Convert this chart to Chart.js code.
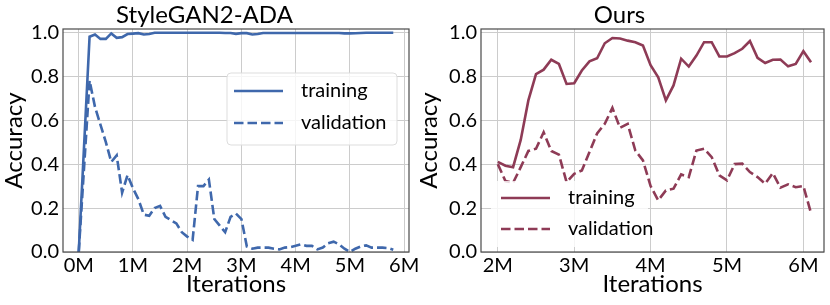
<!DOCTYPE html>
<html>
<head>
<meta charset="utf-8">
<script src="https://cdn.jsdelivr.net/npm/chart.js@4.4.1/dist/chart.umd.min.js"></script>
<style>
    body { margin: 0; background: #fff; }
    #wrap { position: relative; width: 830px; height: 305px; overflow: hidden; }
    canvas { position: absolute; top: 0; }
    #leftChart { left: 0; }
    #rightChart { left: 415px; }
</style>
</head>
<body>
<div id="wrap">
    <canvas id="leftChart" width="430" height="305"></canvas>
    <canvas id="rightChart" width="415" height="305"></canvas>
</div>
<script>
// --- data (iterations in millions) ---
const seriesNames = ['training', 'validation'];
const yTicks = [0, 0.2, 0.4, 0.6, 0.8, 1.0];

// StyleGAN2-ADA
const leftIters = [0, 0.2, 0.3, 0.4, 0.5, 0.6, 0.7, 0.8, 0.9, 1.0,
    1.1, 1.2, 1.3, 1.4, 1.5, 1.6, 1.7, 1.8, 1.9, 2.0,
    2.1, 2.2, 2.3, 2.4, 2.5, 2.6, 2.7, 2.8, 2.9, 3.0,
    3.1, 3.2, 3.3, 3.4, 3.5, 3.6, 3.7, 3.8, 3.9, 4.0,
    4.1, 4.2, 4.3, 4.4, 4.5, 4.6, 4.7, 4.8, 4.9, 5.0,
    5.1, 5.2, 5.3, 5.4, 5.5, 5.6, 5.7, 5.8];
const leftTrain = [0, 0.98, 0.99, 0.97, 0.97, 0.995, 0.975, 0.978, 0.992, 0.994,
    0.996, 0.99, 0.992, 0.998, 0.998, 0.998, 0.998, 0.998, 0.998, 0.998,
    0.998, 0.998, 0.998, 0.998, 0.998, 0.998, 0.997, 0.997, 0.993, 0.996,
    0.996, 0.99, 0.992, 0.997, 0.997, 0.997, 0.997, 0.997, 0.997, 0.997,
    0.997, 0.997, 0.997, 0.997, 0.997, 0.997, 0.997, 0.997, 0.995, 0.995,
    0.996, 0.997, 0.998, 0.998, 0.998, 0.998, 0.998, 0.998];
const leftVal = [0, 0.78, 0.66, 0.58, 0.50, 0.41, 0.44, 0.27, 0.35, 0.29,
    0.24, 0.17, 0.165, 0.20, 0.21, 0.16, 0.145, 0.13, 0.09, 0.07,
    0.055, 0.30, 0.30, 0.33, 0.15, 0.12, 0.09, 0.16, 0.175, 0.15,
    0.025, 0.015, 0.02, 0.02, 0.02, 0.015, 0.012, 0.02, 0.022, 0.028,
    0.035, 0.028, 0.028, 0.012, 0.02, 0.04, 0.047, 0.035, 0.015, 0.0,
    0.015, 0.025, 0.03, 0.02, 0.02, 0.02, 0.018, 0.01];
const leftXTicks = [0, 1, 2, 3, 4, 5, 6];

// Ours
const rightIters = [2.0, 2.1, 2.2, 2.3, 2.4, 2.5, 2.6, 2.7, 2.8, 2.9,
    3.0, 3.1, 3.2, 3.3, 3.4, 3.5, 3.6, 3.7, 3.8, 3.9,
    4.0, 4.1, 4.2, 4.3, 4.4, 4.5, 4.6, 4.7, 4.8, 4.9,
    5.0, 5.1, 5.2, 5.3, 5.4, 5.5, 5.6, 5.7, 5.8, 5.9,
    6.0, 6.1];
const rightTrain = [0.41, 0.393, 0.386, 0.51, 0.69, 0.81, 0.83, 0.875, 0.856, 0.765,
    0.768, 0.826, 0.868, 0.882, 0.95, 0.974, 0.972, 0.962, 0.955, 0.94,
    0.85, 0.795, 0.69, 0.758, 0.88, 0.844, 0.894, 0.955, 0.955, 0.89,
    0.89, 0.905, 0.925, 0.96, 0.884, 0.86, 0.875, 0.876, 0.845, 0.856,
    0.914, 0.864];
const rightVal = [0.40, 0.323, 0.315, 0.386, 0.46, 0.47, 0.545, 0.46, 0.443, 0.318,
    0.356, 0.371, 0.455, 0.54, 0.583, 0.656, 0.565, 0.583, 0.462, 0.417,
    0.30, 0.235, 0.28, 0.288, 0.353, 0.341, 0.462, 0.47, 0.432, 0.349,
    0.326, 0.40, 0.402, 0.364, 0.341, 0.311, 0.359, 0.293, 0.308, 0.295,
    0.30, 0.177];
const rightXTicks = [2, 3, 4, 5, 6];

const FONT = 'Lato, "DejaVu Sans", sans-serif';

// legend drawn inside the plot, matplotlib style
const boxLegend = {
    id: 'boxLegend',
    afterDatasetsDraw(chart, args, opts) {
        const ctx = chart.ctx;
        ctx.save();
        ctx.fillStyle = 'rgba(255,255,255,0.8)';
        ctx.beginPath();
        ctx.roundRect(opts.box[0], opts.box[1], opts.box[2], opts.box[3], 4);
        ctx.fill();
        if (opts.edge) {
            ctx.strokeStyle = opts.edge;
            ctx.lineWidth = 1;
            ctx.stroke();
        }
        chart.data.datasets.forEach((ds, i) => {
            const y = opts.y + i * opts.rowGap;
            ctx.strokeStyle = ds.borderColor;
            ctx.lineWidth = ds.borderWidth;
            ctx.setLineDash(ds.borderDash || []);
            ctx.beginPath();
            ctx.moveTo(opts.x, y);
            ctx.lineTo(opts.x + 49, y);
            ctx.stroke();
            ctx.setLineDash([]);
            ctx.fillStyle = '#000';
            ctx.font = '20px ' + FONT;
            ctx.textBaseline = 'middle';
            ctx.fillText(ds.label, opts.x + 67, y);
        });
        ctx.restore();
    }
};

// full box around the plot area
const frame = {
    id: 'frame',
    afterDatasetsDraw(chart) {
        const a = chart.chartArea;
        const ctx = chart.ctx;
        ctx.save();
        ctx.strokeStyle = '#4a4a4a';
        ctx.lineWidth = 1.2;
        ctx.strokeRect(a.left, a.top, a.right - a.left, a.bottom - a.top);
        ctx.restore();
    }
};

function makeChart(id, title, iters, train, val, xTicks, xMin, xMax, color, yAxisWidth, padRight, legendOpts) {
    const ctx = document.getElementById(id).getContext('2d');
    return new Chart(ctx, {
        type: 'line',
        data: {
            datasets: [{
                label: seriesNames[0],
                data: iters.map((x, i) => ({ x: x, y: train[i] })),
                borderColor: color,
                borderWidth: 2.6,
                pointRadius: 0,
                tension: 0,
                fill: false
            }, {
                label: seriesNames[1],
                data: iters.map((x, i) => ({ x: x, y: val[i] })),
                borderColor: color,
                borderWidth: 2.6,
                borderDash: [9.5, 4],
                pointRadius: 0,
                tension: 0,
                fill: false
            }]
        },
        options: {
            responsive: false,
            animation: false,
            layout: { padding: { left: 0, right: padRight, top: 0, bottom: 0 } },
            plugins: {
                legend: { display: false },
                tooltip: { enabled: false },
                title: {
                    display: true,
                    text: title,
                    color: '#000',
                    font: { family: FONT, size: 24, weight: 'normal', lineHeight: 1.0 },
                    padding: { top: 3, bottom: 2 }
                },
                boxLegend: legendOpts
            },
            scales: {
                x: {
                    type: 'linear',
                    min: xMin,
                    max: xMax,
                    afterBuildTicks: s => { s.ticks = xTicks.map(v => ({ value: v })); },
                    afterFit: s => { s.height = 53; s.paddingLeft = 0; s.paddingRight = 0; },
                    grid: { color: '#cccccc', lineWidth: 1, drawTicks: false },
                    border: { display: false },
                    ticks: {
                        color: '#000',
                        padding: 2,
                        maxRotation: 0,
                        font: { family: FONT, size: 20 },
                        callback: v => v + 'M'
                    },
                    title: {
                        display: true,
                        text: 'Iterations',
                        color: '#000',
                        font: { family: FONT, size: 24, lineHeight: 1.0 },
                        padding: { top: 0, bottom: 9 }
                    }
                },
                y: {
                    min: 0,
                    max: 1.015,
                    afterBuildTicks: s => { s.ticks = yTicks.map(v => ({ value: v })); },
                    afterFit: s => { s.width = yAxisWidth; s.paddingTop = 0; s.paddingBottom = 0; },
                    grid: { color: '#cccccc', lineWidth: 1, drawTicks: false },
                    border: { display: false },
                    ticks: {
                        color: '#000',
                        padding: 4,
                        font: { family: FONT, size: 20 },
                        callback: v => v.toFixed(1)
                    },
                    title: {
                        display: true,
                        text: 'Accuracy',
                        color: '#000',
                        font: { family: FONT, size: 24, lineHeight: 1.2 },
                        padding: 0
                    }
                }
            }
        },
        plugins: [frame, boxLegend]
    });
}

makeChart('leftChart', 'StyleGAN2-ADA', leftIters, leftTrain, leftVal, leftXTicks,
    -0.29, 6.09, '#3f68ac', 63, 21,
    { box: [227, 73, 170, 72], edge: '#dddddd', x: 234, y: 91, rowGap: 32 });

makeChart('rightChart', 'Ours', rightIters, rightTrain, rightVal, rightXTicks,
    1.78, 6.27, '#8e3b56', 66, 6,
    { box: [76, 181, 157, 66], edge: null, x: 86, y: 198, rowGap: 31 });
</script>
</body>
</html>
